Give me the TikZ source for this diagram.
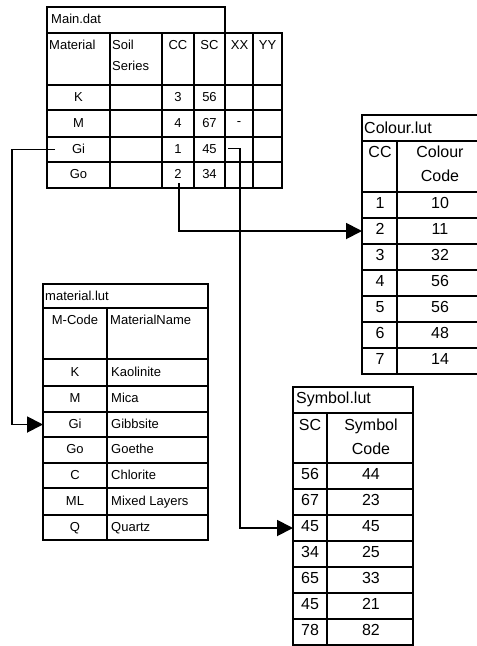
\documentclass[tikz,border=0pt]{standalone}
\usepackage{fontspec}
\setmainfont{Liberation Sans}
\usetikzlibrary{arrows.meta}
\begin{document}
\begin{tikzpicture}[x=1pt,y=-1pt,
  grid/.style={line width=1.7pt},
  sepline/.style={line width=2.4pt},
  txt/.style={inner sep=0pt, text height=0.72em, text depth=0pt},
  small/.style={txt, font=\fontsize{13}{15}\selectfont},
  big/.style={txt, font=\fontsize{16}{18}\selectfont},
  link/.style={line width=1.9pt},
  arr/.style={link, -{Triangle[length=16pt,width=16pt]}}
]
\useasboundingbox (0,0) rectangle (477,646);
\clip (0,0) rectangle (477,646);

% ---------------- Main.dat ----------------
\draw[grid] (47,7) rectangle (225,33);
\draw[grid] (47,33) rectangle (282,188);
\foreach \x in {110,162,194,253} \draw[grid] (\x,33) -- (\x,188);
\draw[sepline] (225,7) -- (225,188);
\foreach \y in {85,110,137,162} \draw[sepline] (47,\y) -- (282,\y);

\node[small, anchor=west] (mdtitle) at (51,20) {Main.dat};
\node[small, anchor=north west] (mdh1) at (49,42) {Material};
\node[small, anchor=north west] (mdh2a) at (112,42) {Soil};
\node[small, anchor=north west] (mdh2b) at (112,63) {Series};
\node[small, anchor=north] (mdh3) at (178,42) {CC};
\node[small, anchor=north] (mdh4) at (209.5,42) {SC};
\node[small, anchor=north] (mdh5) at (239.5,42) {XX};
\node[small, anchor=north] (mdh6) at (267.5,42) {YY};

\node[small] (mdk) at (78.5,97.5) {K};
\node[small] (mdm) at (78.5,123.5) {M};
\node[small] (mdgi) at (78.5,149.5) {Gi};
\node[small] (mdgo) at (78.5,175) {Go};
\node[small] (mdcc1) at (178,97.5) {3};
\node[small] (mdcc2) at (178,123.5) {4};
\node[small] (mdcc3) at (178,149.5) {1};
\node[small] (mdcc4) at (178,175) {2};
\node[small] (mdsc1) at (209.5,97.5) {56};
\node[small] (mdsc2) at (209.5,123.5) {67};
\node[small] (mdsc3) at (209.5,149.5) {45};
\node[small] (mdsc4) at (209.5,175) {34};
\node[small] (mdxx) at (239,122) {-};

% ---------------- Colour.lut ----------------
\draw[grid] (362,115) rectangle (484,374);
\draw[grid] (362,141) -- (484,141);
\draw[grid] (397,141) -- (397,374);
\foreach \y in {192,218,244,270,296,322,348} \draw[sepline] (362,\y) -- (484,\y);

\node[big, anchor=west] (cltitle) at (364,130) {Colour.lut};
\node[big, anchor=north] (clh1) at (380,150) {CC};
\node[big, anchor=north] (clh2a) at (440,150) {Colour};
\node[big, anchor=north] (clh2b) at (440,174) {Code};
\foreach \i/\v [count=\k] in {1/10,2/11,3/32,4/56,5/56,6/48,7/14} {
  \node[big] (clc\k) at (380,{192+26*\k-13}) {\i};
  \node[big] (clv\k) at (440,{192+26*\k-13}) {\v};
}

% ---------------- material.lut ----------------
\draw[grid] (43,284) rectangle (208,540);
\draw[grid] (43,308) -- (208,308);
\draw[grid] (107,308) -- (107,540);
\foreach \y in {359,386,412,437,463,488,515} \draw[sepline] (43,\y) -- (208,\y);

\node[small, anchor=west] (mltitle) at (45,297) {material.lut};
\node[small, anchor=north] (mlh1) at (75,317) {M-Code};
\node[small, anchor=north west] (mlh2) at (110,317) {MaterialName};
\node[small] (mlc1) at (75,372.5) {K};
\node[small] (mlc2) at (75,399) {M};
\node[small] (mlc3) at (75,424.5) {Gi};
\node[small] (mlc4) at (75,450) {Go};
\node[small] (mlc5) at (75,475.5) {C};
\node[small] (mlc6) at (75,501.5) {ML};
\node[small] (mlc7) at (75,527.5) {Q};
\node[small, anchor=west] (mln1) at (111,372.5) {Kaolinite};
\node[small, anchor=west] (mln2) at (111,399) {Mica};
\node[small, anchor=west] (mln3) at (111,424.5) {Gibbsite};
\node[small, anchor=west] (mln4) at (111,450) {Goethe};
\node[small, anchor=west] (mln5) at (111,475.5) {Chlorite};
\node[small, anchor=west] (mln6) at (111,501.5) {Mixed Layers};
\node[small, anchor=west] (mln7) at (111,527.5) {Quartz};

% ---------------- Symbol.lut ----------------
\draw[grid] (293,387) rectangle (413,645);
\draw[grid] (293,413) -- (413,413);
\draw[grid] (327,413) -- (327,645);
\foreach \y in {463,489,515,541,567,593,619} \draw[sepline] (293,\y) -- (413,\y);

\node[big, anchor=west] (sytitle) at (296,400) {Symbol.lut};
\node[big, anchor=north] (syh1) at (310,423) {SC};
\node[big, anchor=north] (syh2a) at (371,423) {Symbol};
\node[big, anchor=north] (syh2b) at (371,447) {Code};
\foreach \s/\v [count=\k] in {56/44,67/23,45/45,34/25,65/33,45/21,78/82} {
  \node[big] (syc\k) at (310,{463+26*\k-13}) {\s};
  \node[big] (syv\k) at (371,{463+26*\k-13}) {\v};
}

% ---------------- connectors ----------------
\coordinate (giout) at (55,149.5);
\coordinate (mlgiin) at (43,424.5);
\coordinate (ccout) at (179,183);
\coordinate (cltwoin) at (362,231);
\coordinate (scout) at (228,148.5);
\coordinate (scbend) at (240,148.5);
\coordinate (syin) at (293,528);

\draw[arr] (giout) -- (12,149.5) |- (mlgiin);
\draw[arr] (ccout) |- (cltwoin);
\draw[arr] (scout) -- (scbend) |- (syin);
\end{tikzpicture}
\end{document}
